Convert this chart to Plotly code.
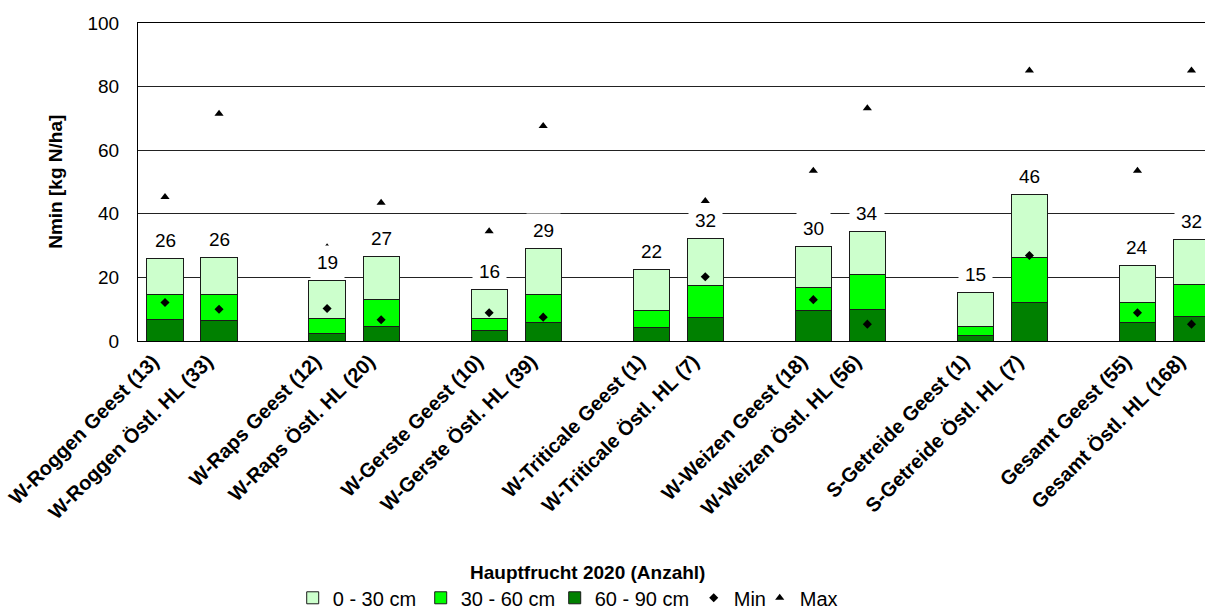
import plotly.graph_objects as go

# ---------------- data ----------------
categories = ["W-Roggen Geest (13)", "W-Roggen Östl. HL (33)",
              "W-Raps Geest (12)", "W-Raps Östl. HL (20)",
              "W-Gerste Geest (10)", "W-Gerste Östl. HL (39)",
              "W-Triticale Geest (1)", "W-Triticale Östl. HL (7)",
              "W-Weizen Geest (18)", "W-Weizen Östl. HL (56)",
              "S-Getreide Geest (1)", "S-Getreide Östl. HL (7)",
              "Gesamt Geest (55)", "Gesamt Östl. HL (168)"]
n_60_90 = [6.7, 6.4, 2.3, 4.5, 3.2, 5.8, 4.2, 7.4, 9.6, 9.8, 1.6, 12.1, 5.9, 7.8]
n_30_60 = [7.8, 8.1, 4.8, 8.4, 3.9, 8.9, 5.3, 10.1, 7.3, 11.0, 2.9, 14.2, 6.2, 10.0]
n_0_30 = [11.5, 11.9, 11.8, 13.7, 9.0, 14.4, 12.9, 14.6, 12.7, 13.6, 10.9, 19.9, 11.5, 14.0]
n_min = [12.1, 10.0, 10.2, 6.7, 8.9, 7.5, None, 20.2, 13.0, 5.3, None, 26.9, 8.9, 5.3]
n_max = [45.3, 71.5, 29.5, 43.5, 34.5, 67.6, None, 44.0, 53.5, 73.2, None, 85.1, 53.5, 85.1]
y_ticks = [0, 20, 40, 60, 80, 100]

FONT = "Arial, Liberation Sans, sans-serif"
FS = 19

# category order with an empty slot between each pair
cat_order = []
for i, c in enumerate(categories):
    cat_order.append(c)
    if i % 2 == 1 and i < len(categories) - 1:
        cat_order.append("\u200b" * (i // 2 + 1))

totals = [a + b + c for a, b, c in zip(n_60_90, n_30_60, n_0_30)]

fig = go.Figure()
bar_line = dict(color="#1a1a1a", width=1)
fig.add_trace(go.Bar(x=categories, y=n_60_90, name="60 - 90 cm", width=0.67,
                     marker=dict(color="#008000", line=bar_line), legendrank=3, legendwidth=94))
fig.add_trace(go.Bar(x=categories, y=n_30_60, name="30 - 60 cm", width=0.67,
                     marker=dict(color="#00FF00", line=bar_line), legendrank=2, legendwidth=89))
fig.add_trace(go.Bar(x=categories, y=n_0_30, name="0 - 30 cm", width=0.67,
                     marker=dict(color="#CCFFCC", line=bar_line), legendrank=1, legendwidth=83))
fig.add_trace(go.Scatter(x=categories, y=n_min, name="Min", mode="markers",
                         marker=dict(symbol="diamond", size=7, color="black"),
                         legendrank=4, legendwidth=21))
fig.add_trace(go.Scatter(x=categories, y=n_max, name="Max", mode="markers",
                         marker=dict(symbol="triangle-up", size=8, color="black"),
                         legendrank=5, legendwidth=40))

for c, t in zip(categories, totals):
    fig.add_annotation(x=c, y=t, text=f"{t:.0f}", showarrow=False,
                       yanchor="middle", yshift=18, bgcolor="white", borderpad=6,
                       font=dict(family=FONT, size=FS, color="black"))

fig.add_annotation(xref="paper", yref="paper", x=0.4217, y=-0.729,
                   text="<b>Hauptfrucht 2020 (Anzahl)</b>", showarrow=False,
                   xanchor="center", yanchor="middle",
                   font=dict(family=FONT, size=FS, color="black"))
fig.add_annotation(xref="paper", yref="paper", x=-0.078, y=0.5,
                   text="<b>Nmin [kg N/ha]</b>", showarrow=False, textangle=-90,
                   xanchor="center", yanchor="middle",
                   font=dict(family=FONT, size=FS, color="black"))

fig.update_layout(
    width=1205, height=610,
    margin=dict(l=138, r=0, t=23, b=269, autoexpand=False),
    barmode="stack",
    plot_bgcolor="white", paper_bgcolor="white",
    font=dict(family=FONT, size=FS, color="black"),
    showlegend=True,
    legend=dict(orientation="h", x=0.145, xanchor="left", y=-0.8075, yanchor="middle",
                traceorder="normal",
                font=dict(family=FONT, size=20, color="black"),
                itemwidth=30, bgcolor="rgba(0,0,0,0)"),
)
fig.update_xaxes(type="category", categoryorder="array", categoryarray=cat_order,
                 range=[-0.5, 19.25], tickmode="array", tickvals=categories,
                 ticktext=[f"<b>{c}</b>" for c in categories], tickangle=-45,
                 ticklabelshift=-12,
                 tickfont=dict(family=FONT, size=20, color="black"),
                 showline=True, linecolor="black", linewidth=1, mirror=True,
                 showgrid=False, ticks="", automargin=False)
fig.update_yaxes(range=[0, 100], tickvals=y_ticks, showgrid=True, gridcolor="#222222",
                 gridwidth=1, showline=True, linecolor="black", linewidth=1,
                 zeroline=False, ticks="", ticklabelstandoff=14,
                 tickfont=dict(family=FONT, size=FS, color="black"), automargin=False)

fig.write_html("out.html", config={"displayModeBar": False},
               post_script="document.body.style.margin='0';document.body.style.overflow='hidden';")
